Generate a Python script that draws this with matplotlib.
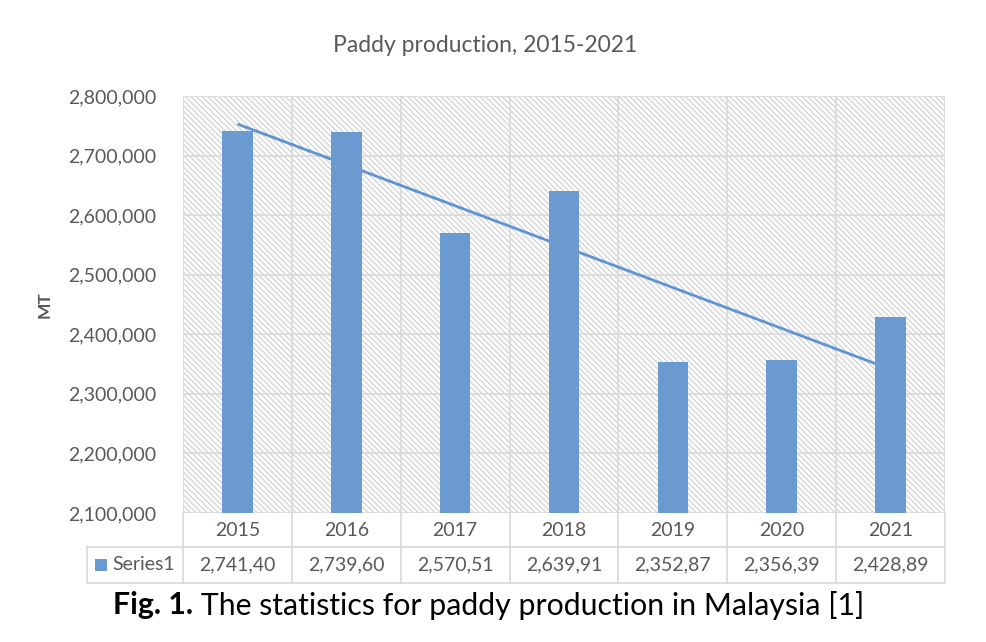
import numpy as np
import matplotlib
matplotlib.use("Agg")
import matplotlib.pyplot as plt
from matplotlib.patches import Rectangle
import matplotlib.transforms as mtransforms
from matplotlib.ticker import FuncFormatter, MultipleLocator

# ---- data ----
years = ["2015", "2016", "2017", "2018", "2019", "2020", "2021"]
production = [2741400, 2739600, 2570510, 2639910, 2352870, 2356390, 2428890]
table_labels = ["2,741,40", "2,739,60", "2,570,51", "2,639,91", "2,352,87", "2,356,39", "2,428,89"]
series_name = "Series1"
title = "Paddy production, 2015-2021"
y_label = "MT"
caption_bold = "Fig. 1."
caption_rest = " The statistics for paddy production in Malaysia [1]"

plt.rcParams['font.family'] = ['Lato', 'DejaVu Sans']
plt.rcParams['hatch.linewidth'] = 1.0

W, H = 986, 642
fig = plt.figure(figsize=(W / 100, H / 100), dpi=100)
fig.patch.set_facecolor("white")

left, right, top, bottom = 183, 945, 96, 513
ax = fig.add_axes([left / W, 1 - bottom / H, (right - left) / W, (bottom - top) / H])

bar_color = "#6A9AD0"
line_color = "#5F93D3"
grid_color = "#D9D9D9"
text_color = "#595959"

x = np.arange(len(years))
ax.set_xlim(-0.5, len(years) - 0.5)
ax.set_ylim(2100000, 2800000)

# hatched background
bg = Rectangle((0, 0), 1, 1, transform=ax.transAxes, facecolor="white",
               edgecolor="#D6D6D6", hatch="\\" * 6, linewidth=0, zorder=0)
ax.add_patch(bg)

# gridlines
ax.yaxis.set_major_locator(MultipleLocator(100000))
for yv in np.arange(2100000, 2800001, 100000):
    ax.axhline(yv, color=grid_color, lw=1.2, zorder=0.5)
for xv in np.arange(-0.5, len(years), 1.0):
    ax.axvline(xv, color=grid_color, lw=1.2, zorder=0.5)

# trendline (linear fit of the data)
coef = np.polyfit(x, production, 1)
ax.plot(x, np.polyval(coef, x), color=line_color, lw=2, zorder=1,
        solid_capstyle="butt")

# bars
ax.bar(x, production, width=0.28, color=bar_color, zorder=2, bottom=0)

for s in ax.spines.values():
    s.set_visible(False)
ax.set_xticks([])
ax.tick_params(axis="y", length=0, labelsize=14, labelcolor=text_color, pad=19)
ax.yaxis.set_major_formatter(FuncFormatter(lambda v, p: f"{int(v):,}"))

# title
fig.text(485 / W, 1 - 45 / H, title, ha="center", va="center",
         fontsize=16.5, color=text_color)
# y label
fig.text(45 / W, 1 - 305 / H, y_label, ha="center", va="center", rotation=90,
         fontsize=12.5, color=text_color, fontweight="bold")

# ---- data table ----
trans = mtransforms.blended_transform_factory(ax.transData, ax.transAxes)
ax_h = bottom - top
r1 = -(547 - bottom) / ax_h
r2 = -(583 - bottom) / ax_h
x_series_left = -0.5 - (left - 87) / ((right - left) / len(years))
tbl_kw = dict(transform=trans, color=grid_color, lw=1.2, clip_on=False)
# horizontal lines
ax.plot([-0.5, len(years) - 0.5], [r1, r1], **tbl_kw)
ax.plot([x_series_left, len(years) - 0.5], [r1, r1], **tbl_kw)
ax.plot([x_series_left, len(years) - 0.5], [r2, r2], **tbl_kw)
# vertical lines
for xv in np.arange(-0.5, len(years), 1.0):
    ax.plot([xv, xv], [0, r2], **tbl_kw)
ax.plot([x_series_left, x_series_left], [r1, r2], **tbl_kw)

for i, (yr, lab) in enumerate(zip(years, table_labels)):
    ax.text(i, r1 / 2, yr, transform=trans, ha="center", va="center",
            fontsize=14, color=text_color)
    ax.text(i, (r1 + r2) / 2, lab, transform=trans, ha="center", va="center",
            fontsize=14, color=text_color)

# legend key + series name
unit = (right - left) / len(years)
key_x0 = x_series_left + 8 / unit
key_w = 12 / unit
kh = 12 / ax_h
ax.add_patch(Rectangle((key_x0, (r1 + r2) / 2 - kh / 2), key_w, kh, transform=trans,
                       facecolor=bar_color, edgecolor="none", clip_on=False))
ax.text(key_x0 + key_w + 5 / unit, (r1 + r2) / 2, series_name, transform=trans,
        ha="left", va="center", fontsize=14, color=text_color)

# caption
t1 = fig.text(113 / W, 1 - 605 / H, caption_bold, ha="left", va="center",
              fontsize=21.8, fontweight="bold", color="black")
ax.annotate(caption_rest, xy=(1, 0.5), xycoords=t1, ha="left", va="center",
            fontsize=21.8, color="black", annotation_clip=False)

fig.savefig("out.png", dpi=100, facecolor="white")
